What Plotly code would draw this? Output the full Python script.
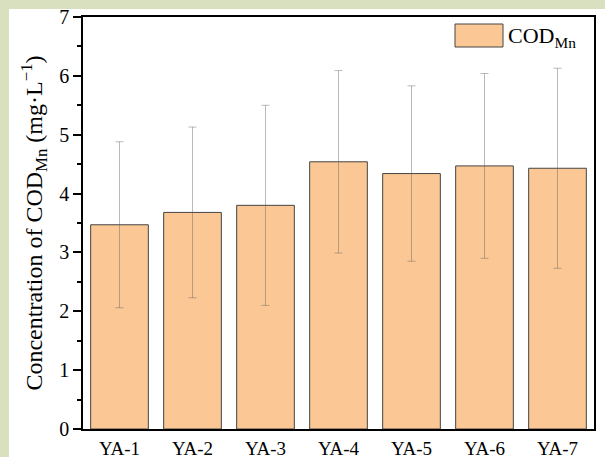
import plotly.graph_objects as go

# Site labels and mean COD_Mn concentration with standard deviation (mg/L)
sites = ["YA-1", "YA-2", "YA-3", "YA-4", "YA-5", "YA-6", "YA-7"]
cod_mean = [3.47, 3.68, 3.80, 4.54, 4.34, 4.47, 4.43]
cod_sd = [1.41, 1.45, 1.70, 1.55, 1.49, 1.57, 1.70]

x_pos = list(range(len(sites)))
x_range = [-0.5, len(sites) - 0.5]

bar_fill = "#FBC895"
serif = "Liberation Serif"

# plot area in pixels: x 83..594, y 17..429
L, R, T, B = 83, 594, 17, 429
W, H = R - L, B - T


def px(x):
    return (x - L) / W


def py(y):
    return (B - y) / H


fig = go.Figure()
fig.add_trace(go.Bar(
    x=x_pos,
    y=cod_mean,
    width=0.79,
    marker=dict(color=bar_fill, line=dict(color="#444444", width=1)),
    error_y=dict(type="data", array=cod_sd, visible=True,
                 color="rgba(90,90,90,0.42)", thickness=1, width=4),
    showlegend=False,
))

# White panel behind the chart, leaving a light green band on the left and top
fig.add_shape(type="rect", xref="paper", yref="paper",
              x0=px(9), x1=px(640), y0=py(480), y1=py(9),
              fillcolor="white", line=dict(width=0), layer="below")

# Legend box and label
fig.add_shape(type="rect", xref="paper", yref="paper",
              x0=px(455), x1=px(503), y0=py(47), y1=py(24),
              fillcolor=bar_fill, line=dict(color="#444444", width=1))
fig.add_annotation(xref="paper", yref="paper",
                   x=px(506), y=py(37),
                   xanchor="left", yanchor="middle", showarrow=False,
                   text="COD<sub>Mn</sub>",
                   font=dict(family=serif, size=22, color="black"))

fig.update_layout(
    width=605, height=457,
    margin=dict(l=L, r=605 - R, t=T, b=457 - B, autoexpand=False),
    paper_bgcolor="#D8E0C0",
    plot_bgcolor="white",
    font=dict(family=serif, size=19, color="black"),
    bargap=0.21,
    # labelled category axis (tick marks drawn by xaxis2 so labels sit close)
    xaxis=dict(
        automargin=False, range=x_range,
        tickmode="array", tickvals=x_pos, ticktext=sites,
        ticks="", ticklabelstandoff=1,
        showline=True, linecolor="black", linewidth=1.5, mirror=True,
        showgrid=False, zeroline=False,
        tickfont=dict(family=serif, size=19),
    ),
    # tick-mark-only axis laid over the labelled category axis
    xaxis2=dict(
        overlaying="x", anchor="y", side="bottom", automargin=False,
        range=x_range, tickmode="array", tickvals=x_pos,
        showticklabels=False,
        ticks="outside", ticklen=6, tickwidth=1.5, tickcolor="black",
        minor=dict(tickmode="array", tickvals=[p + 0.5 for p in x_pos[:-1]],
                   ticks="outside", ticklen=3, tickwidth=1.5, tickcolor="black"),
        showline=False, showgrid=False, zeroline=False,
    ),
    yaxis=dict(
        automargin=False,
        range=[0, 7], dtick=1, tick0=0,
        ticks="outside", ticklen=8, tickwidth=1.5, tickcolor="black",
        minor=dict(dtick=0.5, ticks="outside", ticklen=4, tickwidth=1.5,
                   tickcolor="black", showgrid=False),
        showline=True, linecolor="black", linewidth=1.5, mirror=True,
        showgrid=False, zeroline=False,
        tickfont=dict(family=serif, size=20),
        title=dict(text="Concentration of COD<sub>Mn</sub> (mg·L<sup>−1</sup>)",
                   font=dict(family=serif, size=24), standoff=10),
    ),
)

fig.write_html("out.html")
